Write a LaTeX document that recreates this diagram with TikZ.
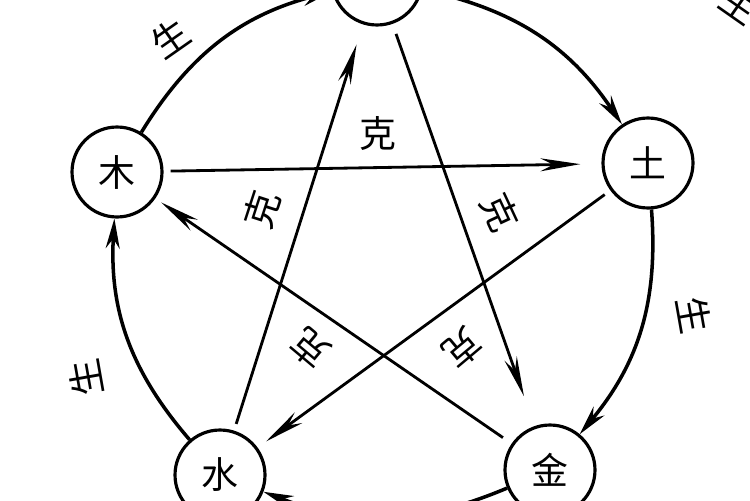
\documentclass[tikz,border=0pt]{standalone}
\usepackage{fontspec}
\newfontfamily\cjk{Noto Sans CJK SC}
\usetikzlibrary{arrows.meta}
\begin{document}
\begin{tikzpicture}[x=0.02cm, y=-0.02cm, every node/.style={font=\cjk\fontsize{21}{21}\selectfont},
    elem/.style={circle, draw, line width=1.8pt, minimum size=1.8cm, inner sep=0pt},
    sheng/.style={line width=2pt, -{Stealth[length=6mm, width=2.8mm]}},
    ke/.style={line width=1.6pt, -{Stealth[length=8mm, width=2.6mm]}}]
  \useasboundingbox (0,0) rectangle (750,500);

  % the five elements
  \node[elem] (fire)  at (377,-20) {火};
  \node[elem] (wood)  at (117,172) {木};
  \node[elem] (earth) at (648,163) {土};
  \node[elem] (metal) at (550,470) {金};
  \node[elem] (water) at (220,475) {水};

  % generating cycle
  \draw[sheng] (wood) to[bend left=22] (fire);
  \draw[sheng] (fire) to[bend left=22] (earth);
  \draw[sheng] (earth) to[bend left=22] (metal);
  \draw[sheng] (metal) to[bend left=22] (water);
  \draw[sheng] (water) to[bend left=22] (wood);

  % controlling star
  \draw[ke, shorten <=4pt, shorten >=12pt] (wood) -- (earth);
  \draw[ke, shorten <=4pt, shorten >=6pt] (earth) -- (water);
  \draw[ke, shorten <=4pt, shorten >=12pt] (water) -- (fire);
  \draw[ke, shorten <=6pt, shorten >=18pt] (fire) -- (metal);
  \draw[ke, shorten <=6pt, shorten >=4pt] (metal) -- (wood);

  % labels
  \node at (170,38) [rotate=35] {生};
  \node at (740,4) [rotate=-35] {生};
  \node at (694,315) [rotate=-80] {生};
  \node at (86,378) [rotate=100] {生};
  \node at (378,133) {克};
  \node at (262,210) [rotate=72] {克};
  \node at (500,212) [rotate=-65] {克};
  \node at (310,348) [rotate=140] {克};
  \node at (462,348) [rotate=-140] {克};
\end{tikzpicture}
\end{document}
